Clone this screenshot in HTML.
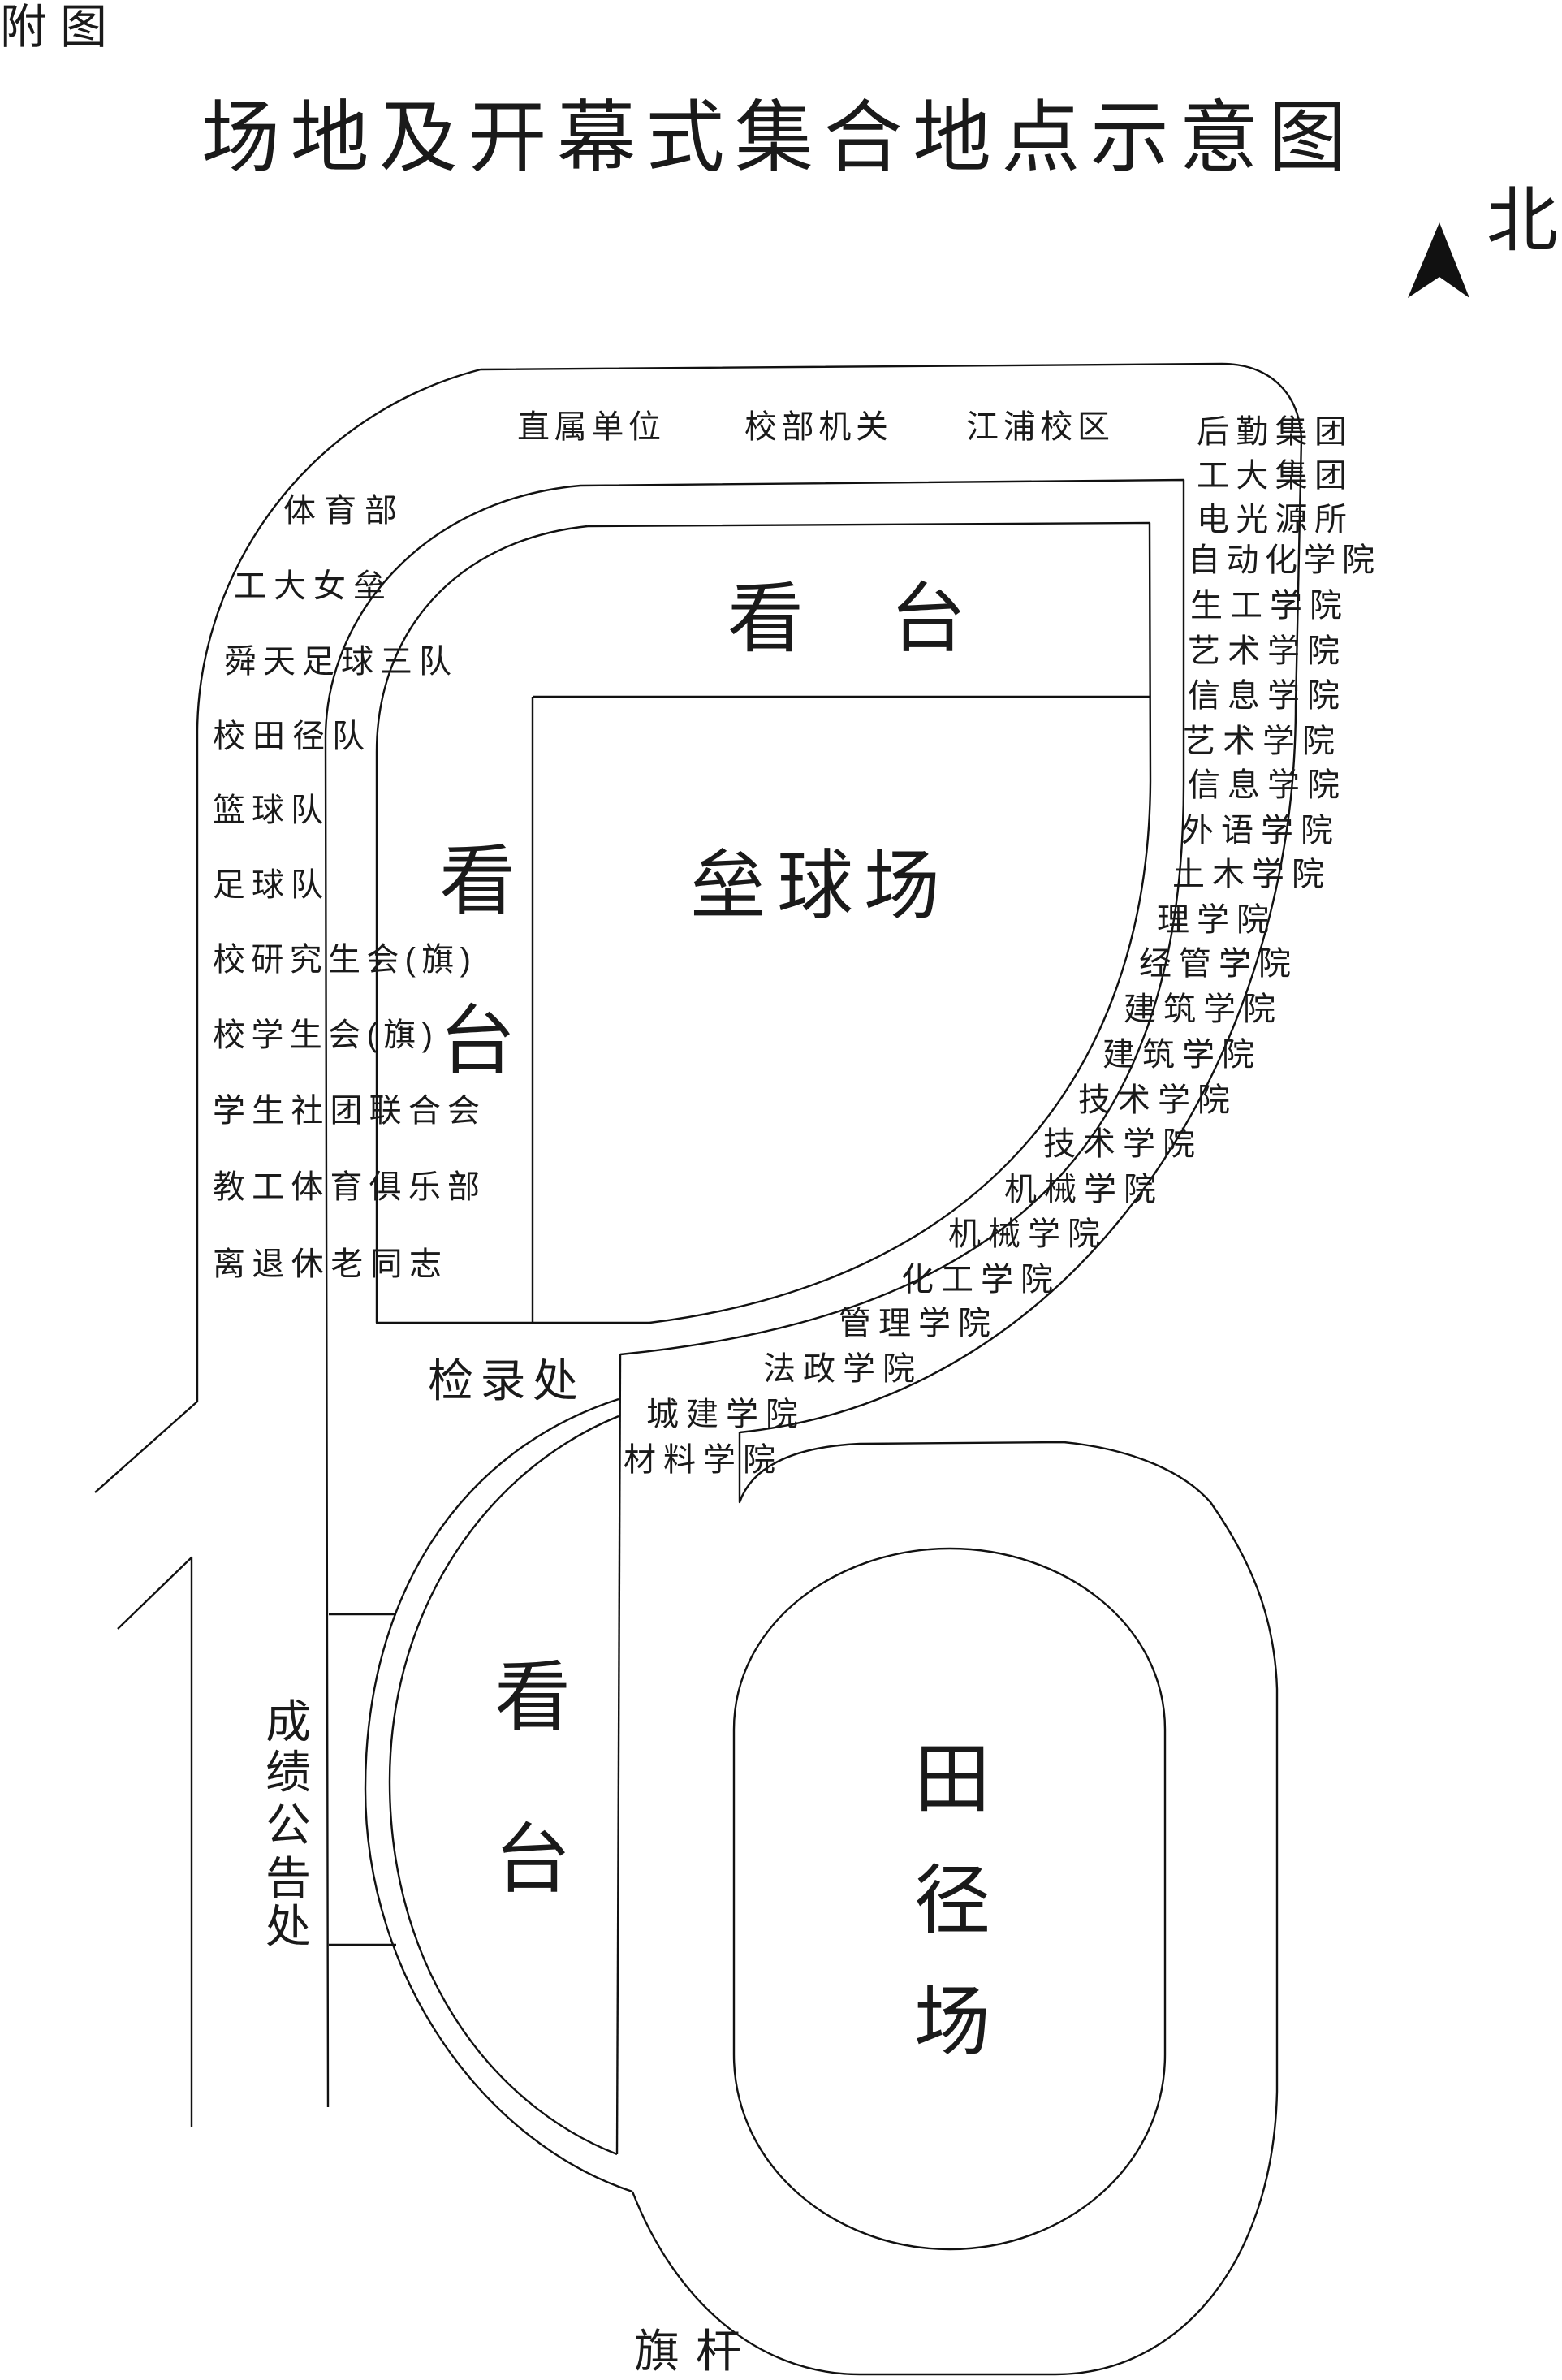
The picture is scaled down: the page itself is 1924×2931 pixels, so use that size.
<!DOCTYPE html>
<html><head><meta charset="utf-8"><style>
html,body{margin:0;padding:0;background:#fff;}
svg{display:block;}
text{font-family:"Liberation Sans","Noto Sans CJK SC",sans-serif;fill:#1a1a1a;}
.l{font-size:40px;}
.m{font-size:56px;}
.b{font-size:94px;}
</style></head><body>
<svg width="1924" height="2931" viewBox="0 0 1924 2931" xmlns="http://www.w3.org/2000/svg">
<g fill="none" stroke="#111" stroke-width="2.4" stroke-linejoin="round">
<path d="M117,1838 L243,1726 L243,900 C245,700 380,510 592,455 L1505,448 C1560,448 1600,480 1603,540 L1596,869 C1596,1300 1330,1720 911,1764"/>
<path d="M145,2006 L236,1918 L236,2620"/>
<path d="M404,2595 L401,909 C401,760 520,615 715,598 L1458,591 L1458,965 C1458,1400 1250,1620 764,1668"/>
<path d="M724,648 L1416,644 L1417,962 C1415,1330 1200,1580 800,1629 L464,1629 L464,926 C464,780 560,665 724,648"/>
<path d="M656,858 L1417,858 M656,858 L656,1629"/>
<path d="M764,1668 L760,2653"/>
<path d="M762,1744 C600,1810 480,1980 480,2194 C480,2420 600,2590 760,2653"/>
<path d="M762,1723 C570,1785 450,1960 450,2203 C450,2440 600,2640 779,2699"/>
<path d="M911,1764 L911,1850 C925,1810 970,1782 1059,1778 L1310,1776 C1400,1785 1460,1815 1491,1850 C1540,1920 1570,1990 1573,2080 L1573,2576 C1568,2790 1450,2924 1300,2924 L1059,2924 C930,2924 830,2830 779,2699"/>
<path d="M904,2130 C904,2000 1030,1907 1170,1907 C1310,1907 1435,2000 1435,2130 L1435,2530 C1435,2670 1310,2770 1170,2770 C1030,2770 904,2670 904,2530 Z"/>
<path d="M405,1988 L488,1988 M405,2395 L488,2395"/>
</g>
<path d="M1773,274 L1810,367 L1773,341 L1734,367 Z" fill="#111"/>
<text x="1831" y="302" style="font-size:88px">北</text>
<text x="0" y="53" style="font-size:58px" textLength="132" lengthAdjust="spacing">附图</text>
<text x="248" y="203" style="font-size:97px" textLength="1411" lengthAdjust="spacing">场地及开幕式集合地点示意图</text>

<text class="l" x="637" y="539" textLength="177" lengthAdjust="spacing">直属单位</text>
<text class="l" x="917" y="539" textLength="177" lengthAdjust="spacing">校部机关</text>
<text class="l" x="1190" y="539" textLength="177" lengthAdjust="spacing">江浦校区</text>

<text class="l" x="1474" y="545" textLength="185" lengthAdjust="spacing">后勤集团</text>
<text class="l" x="1474" y="599" textLength="185" lengthAdjust="spacing">工大集团</text>
<text class="l" x="1474" y="653" textLength="185" lengthAdjust="spacing">电光源所</text>
<text class="l" x="1463" y="703" textLength="230" lengthAdjust="spacing">自动化学院</text>
<text class="l" x="1466" y="759" textLength="187" lengthAdjust="spacing">生工学院</text>
<text class="l" x="1463" y="815" textLength="187" lengthAdjust="spacing">艺术学院</text>
<text class="l" x="1463" y="870" textLength="187" lengthAdjust="spacing">信息学院</text>
<text class="l" x="1457" y="926" textLength="187" lengthAdjust="spacing">艺术学院</text>
<text class="l" x="1463" y="980" textLength="187" lengthAdjust="spacing">信息学院</text>
<text class="l" x="1455" y="1036" textLength="187" lengthAdjust="spacing">外语学院</text>
<text class="l" x="1444" y="1090" textLength="187" lengthAdjust="spacing">土木学院</text>
<text class="l" x="1425" y="1146" textLength="138" lengthAdjust="spacing">理学院</text>
<text class="l" x="1403" y="1200" textLength="187" lengthAdjust="spacing">经管学院</text>
<text class="l" x="1384" y="1256" textLength="187" lengthAdjust="spacing">建筑学院</text>
<text class="l" x="1358" y="1312" textLength="187" lengthAdjust="spacing">建筑学院</text>
<text class="l" x="1328" y="1368" textLength="187" lengthAdjust="spacing">技术学院</text>
<text class="l" x="1285" y="1422" textLength="187" lengthAdjust="spacing">技术学院</text>
<text class="l" x="1237" y="1478" textLength="187" lengthAdjust="spacing">机械学院</text>
<text class="l" x="1168" y="1533" textLength="187" lengthAdjust="spacing">机械学院</text>
<text class="l" x="1110" y="1589" textLength="187" lengthAdjust="spacing">化工学院</text>
<text class="l" x="1033" y="1643" textLength="187" lengthAdjust="spacing">管理学院</text>
<text class="l" x="940" y="1699" textLength="187" lengthAdjust="spacing">法政学院</text>
<text class="l" x="796" y="1755" textLength="187" lengthAdjust="spacing">城建学院</text>
<text class="l" x="768" y="1811" textLength="187" lengthAdjust="spacing">材料学院</text>

<text class="l" x="349" y="642" textLength="140" lengthAdjust="spacing">体育部</text>
<text class="l" x="288" y="735" textLength="187" lengthAdjust="spacing">工大女垒</text>
<text class="l" x="276" y="828" textLength="280" lengthAdjust="spacing">舜天足球三队</text>
<text class="l" x="262" y="920" textLength="187" lengthAdjust="spacing">校田径队</text>
<text class="l" x="262" y="1011" textLength="136" lengthAdjust="spacing">篮球队</text>
<text class="l" x="262" y="1103" textLength="136" lengthAdjust="spacing">足球队</text>
<text class="l" x="262" y="1195" textLength="318" lengthAdjust="spacing">校研究生会(旗)</text>
<text class="l" x="262" y="1288" textLength="271" lengthAdjust="spacing">校学生会(旗)</text>
<text class="l" x="262" y="1381" textLength="329" lengthAdjust="spacing">学生社团联合会</text>
<text class="l" x="262" y="1475" textLength="329" lengthAdjust="spacing">教工体育俱乐部</text>
<text class="l" x="262" y="1570" textLength="282" lengthAdjust="spacing">离退休老同志</text>

<text class="m" x="527" y="1720" textLength="185" lengthAdjust="spacing">检录处</text>
<g class="m" text-anchor="middle">
<text class="m" x="355" y="2140">成</text>
<text class="m" x="355" y="2202">绩</text>
<text class="m" x="355" y="2267">公</text>
<text class="m" x="355" y="2333">告</text>
<text class="m" x="355" y="2392">处</text>
</g>
<text class="m" x="781" y="2915" textLength="132" lengthAdjust="spacing">旗杆</text>

<g text-anchor="middle">
<text class="b" x="943" y="794">看</text>
<text class="b" x="1143" y="794">台</text>
<text class="b" x="588" y="1117">看</text>
<text class="b" x="588" y="1314">台</text>
<text class="b" x="656" y="2122">看</text>
<text class="b" x="656" y="2322">台</text>
<text class="b" x="1173" y="2223">田</text>
<text class="b" x="1173" y="2373">径</text>
<text class="b" x="1173" y="2522">场</text>
</g>
<text class="b" x="850" y="1123" textLength="308" lengthAdjust="spacing">垒球场</text>
</svg>
</body></html>
